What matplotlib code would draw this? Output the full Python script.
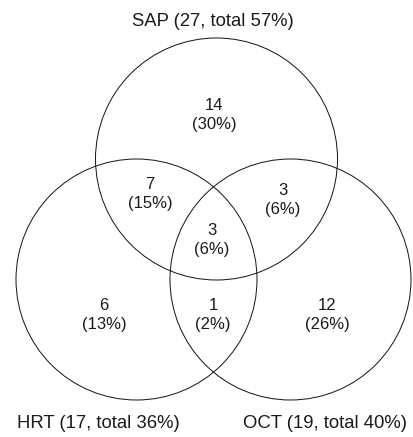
import matplotlib
matplotlib.use("Agg")
import matplotlib.pyplot as plt
from matplotlib.patches import Circle

plt.rcParams['font.family'] = ['Liberation Sans', 'DejaVu Sans']

# Data
set_names = ["SAP", "HRT", "OCT"]
set_totals = [27, 17, 19]
set_pcts = [57, 36, 40]
region_names = ["SAP only", "SAP&HRT", "SAP&OCT", "All", "HRT only", "HRT&OCT", "OCT only"]
region_counts = [14, 7, 3, 3, 6, 1, 12]
region_pcts = [30, 15, 6, 6, 13, 2, 26]

# Layout (pixels)
W, H = 413, 437
circles = [(216.5, 159, 121), (136.5, 279.5, 120.5), (290.5, 279.5, 120.5)]
set_label_pos = [(213, 22), (98, 423), (325, 423)]
region_pos = [(214, 115), (150, 194), (283, 200), (212, 240),
              (104, 315), (213, 315), (327, 315)]

fig = plt.figure(figsize=(W / 100, H / 100), dpi=100)
ax = fig.add_axes([0, 0, 1, 1])
ax.set_xlim(0, W)
ax.set_ylim(H, 0)
ax.set_aspect('equal')
ax.axis('off')

for (cx, cy, r) in circles:
    ax.add_patch(Circle((cx, cy), r, fill=False, edgecolor='#111111', linewidth=0.7))

for name, tot, pct, (x, y) in zip(set_names, set_totals, set_pcts, set_label_pos):
    ax.text(x, y, f"{name} ({tot}, total {pct}%)", ha='center', va='center',
            fontsize=13.3, color='#1a1a1a')

for cnt, pct, (x, y) in zip(region_counts, region_pcts, region_pos):
    ax.text(x, y, f"{cnt}\n({pct}%)", ha='center', va='center', fontsize=12,
            color='#1a1a1a', linespacing=1.4)

fig.savefig("out.png", dpi=100)
